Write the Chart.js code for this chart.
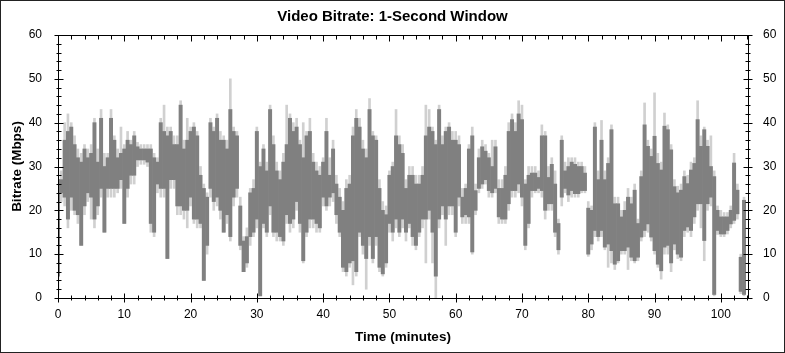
<!DOCTYPE html>
<html>
<head>
<meta charset="utf-8">
<title>Video Bitrate: 1-Second Window</title>
<script src="https://cdn.jsdelivr.net/npm/chart.js@4.4.1/dist/chart.umd.min.js"></script>
<style>
    html, body { margin: 0; padding: 0; background: #fff; }
    #wrap { width: 785px; height: 353px; }
</style>
</head>
<body>
<div id="wrap"><canvas id="bitrateChart" width="785" height="353"></canvas></div>
<script>
// bins of half a minute
const minutes = [
    0, 0.5, 1, 1.5, 2, 2.5, 3, 3.5, 4, 4.5,
    5, 5.5, 6, 6.5, 7, 7.5, 8, 8.5, 9, 9.5,
    10, 10.5, 11, 11.5, 12, 12.5, 13, 13.5, 14, 14.5,
    15, 15.5, 16, 16.5, 17, 17.5, 18, 18.5, 19, 19.5,
    20, 20.5, 21, 21.5, 22, 22.5, 23, 23.5, 24, 24.5,
    25, 25.5, 26, 26.5, 27, 27.5, 28, 28.5, 29, 29.5,
    30, 30.5, 31, 31.5, 32, 32.5, 33, 33.5, 34, 34.5,
    35, 35.5, 36, 36.5, 37, 37.5, 38, 38.5, 39, 39.5,
    40, 40.5, 41, 41.5, 42, 42.5, 43, 43.5, 44, 44.5,
    45, 45.5, 46, 46.5, 47, 47.5, 48, 48.5, 49, 49.5,
    50, 50.5, 51, 51.5, 52, 52.5, 53, 53.5, 54, 54.5,
    55, 55.5, 56, 56.5, 57, 57.5, 58, 58.5, 59, 59.5,
    60, 60.5, 61, 61.5, 62, 62.5, 63, 63.5, 64, 64.5,
    65, 65.5, 66, 66.5, 67, 67.5, 68, 68.5, 69, 69.5,
    70, 70.5, 71, 71.5, 72, 72.5, 73, 73.5, 74, 74.5,
    75, 75.5, 76, 76.5, 77, 77.5, 78, 78.5, 79, 79.5,
    80, 80.5, 81, 81.5, 82, 82.5, 83, 83.5, 84, 84.5,
    85, 85.5, 86, 86.5, 87, 87.5, 88, 88.5, 89, 89.5,
    90, 90.5, 91, 91.5, 92, 92.5, 93, 93.5, 94, 94.5,
    95, 95.5, 96, 96.5, 97, 97.5, 98, 98.5, 99, 99.5,
    100, 100.5, 101, 101.5, 102, 102.5, 103, 103.5
];

// main (dark) band: high / low per bin, Mbps
const bitrateHigh = [
    27, 27, 36, 38, 39, 35, 32, 31, 34, 32,
    33, 40, 31, 41, 30, 32, 41, 36, 32, 33,
    34, 36, 35, 37, 34.5, 34, 34, 34, 34, 32,
    31, 40, 38, 37, 38, 35, 35, 44, 34, 36,
    38, 39, 37, 28, 25, 23, 40, 38, 41, 36,
    36, 34, 43, 38, 37, 21, 13, 14, 24, 25,
    38, 30, 34, 29, 43, 35, 29, 27, 31, 35,
    41, 38, 39, 35, 32, 37, 38, 31, 29, 28,
    31, 38, 28, 34, 26, 23, 20, 25, 26, 37,
    41, 39, 34, 32, 43, 37, 36, 25, 20, 19,
    28, 30, 37, 35, 33, 25, 28, 28, 26, 26,
    28, 37, 39, 38, 35, 43, 35, 38, 39, 36,
    36, 35, 23, 25, 34, 37, 24.5, 32, 34.5, 33.5,
    32, 30, 34.5, 25, 25, 28, 38, 40.7, 38, 42,
    40.7, 26, 28, 28.5, 28.5, 27.5, 37, 37, 27.5, 30.5,
    26, 17, 36, 29, 30, 31, 30.5, 30, 30, 28.5,
    20.5, 20, 39, 27, 36, 27, 30.7, 38.4, 21.5, 21.5,
    18.5, 20, 23, 21.5, 24.6, 17, 27.7, 39.5, 34.6, 32.3,
    36.9, 30.7, 29.2, 39.2, 38.4, 33.8, 25.4, 24, 24.6, 27.7,
    26.1, 29.2, 30.7, 40.7, 34.6, 38.4, 34.6, 30, 27.7, 20,
    18.5, 18.5, 18.5, 20, 30.8, 24.6, 9.3, 22.3
];
const bitrateLow = [
    5, 24, 23, 18, 23, 20, 19, 12, 21, 24,
    23, 18, 21, 25, 15, 25, 25, 25, 25, 27,
    17, 25, 28, 28, 31.5, 31.5, 31.5, 31, 17, 15,
    26, 25, 25, 9, 27, 27, 21, 21, 20, 20,
    23, 18, 18, 17, 4, 12, 25, 22, 23, 20,
    15, 19, 14, 23, 25, 12, 6, 8, 14, 15,
    18, 0.5, 17, 15, 21, 15, 15, 14, 13, 19,
    17, 18, 22, 17, 8.5, 15, 18, 18, 17, 16,
    23, 21, 23, 24, 19, 15, 7, 6, 8, 8.5,
    6, 15, 12, 9, 14, 9, 14, 7, 5.5, 8,
    17, 15, 18, 15, 18, 15, 17, 14, 12, 15,
    18, 18, 20, 15, 5, 18, 21, 18, 21, 21,
    15, 23, 18.5, 19, 18.5, 10.5, 20, 25, 26, 27,
    24.5, 24, 25, 18.5, 18, 18, 21.5, 24.5, 24.5, 26,
    23, 12, 17, 24.5, 24.5, 25, 24.5, 20, 21.5, 21.5,
    15, 11, 23, 25, 23.5, 24.5, 23.8, 23.8, 24.5, 24.5,
    10, 12.3, 15.4, 14, 15.4, 11.6, 12.3, 10.8, 7.7, 8.5,
    10.8, 10.8, 11.6, 9.3, 8.5, 9.3, 13.9, 15.4, 16.9, 13.9,
    10.8, 7.7, 6.2, 11.6, 12, 8, 12.3, 10, 9.3, 15.4,
    16.2, 15.4, 18.5, 21.5, 21.5, 13.1, 21.5, 23, 0.8, 15.4,
    14.6, 14.6, 15.4, 16.9, 17.7, 19.2, 1.5, 0.8
];

// light grey peaks around the band
const peakHigh = [
    29, 29, 40, 42, 40, 37, 34, 33, 35, 34,
    35, 41, 34, 43, 33, 33, 43, 37, 34, 39,
    35, 38, 36, 38, 35.5, 35, 35, 35, 35, 33,
    32, 41, 44, 39, 39, 37, 37, 45, 36, 41,
    39, 40, 38, 30, 26, 24, 41, 39, 42, 38,
    37, 36, 50, 39, 38, 23, 14, 16, 25, 27,
    39, 31, 35, 31, 44, 37, 31, 29, 33, 44,
    42, 40, 41, 36, 40, 38, 41, 33, 31, 30,
    32, 41, 32, 36, 28, 25, 22, 27, 28, 39,
    43, 41, 36, 34, 45.5, 38, 37, 27, 22, 21,
    29, 31, 43, 37, 35, 27, 30, 30, 28, 28,
    30, 44, 43, 39, 36, 44, 37, 39, 40, 38,
    38, 37, 25, 26, 35, 39, 26, 34, 36, 35,
    33, 36, 36, 27, 27, 30, 40, 42, 40, 45,
    44, 27, 30, 30, 30, 29, 39.5, 38, 30, 32,
    29, 18, 37, 31, 32, 32, 32, 31, 31, 30,
    22, 21, 40, 29, 40.5, 29, 32, 39.5, 23, 23,
    20, 22, 25, 23, 26, 18, 29, 44.5, 36, 34,
    46.8, 33, 31, 42.2, 39.5, 35, 27, 25.5, 26, 29,
    28, 31, 32, 45, 37, 39, 36, 37, 29, 21,
    20, 19.5, 19.5, 21, 33, 26, 10, 23
];
const peakLow = [
    1, 22, 21, 16, 20, 19, 17, 12, 19, 22,
    18, 16, 19, 23, 15, 23, 23, 23, 24, 25,
    17, 23, 26, 26, 30, 30.5, 30.5, 30, 15, 14,
    24, 23, 23, 9, 25, 25, 19, 19, 18, 16,
    21, 17, 16, 16, 4, 10, 23, 20, 21, 18,
    15, 17, 13, 21, 23, 11, 6, 7, 12, 14,
    16, 0.5, 16, 14, 19, 14, 13, 13, 12, 17,
    15, 16, 20, 15, 8, 14, 16, 16, 15, 15,
    21, 20, 21, 22, 17, 14, 6, 5, 7, 3,
    5, 14, 10, 2, 12, 8, 12, 6, 5, 7,
    15, 13, 16, 14, 16, 13, 16, 12, 11, 14,
    16, 8, 18, 8, 0, 16, 19, 12, 19, 19,
    14, 21, 17, 17, 17, 10, 19, 24, 25, 26,
    23, 23, 24, 17, 17, 17, 20, 23, 23, 24,
    21, 11, 16, 23, 24, 24, 23, 18, 20, 20,
    14, 10, 21, 24, 22, 23, 23, 23, 24, 24,
    9.5, 11, 14, 13, 14, 11, 7, 8, 6.5, 8,
    10, 10, 6.5, 8.5, 8, 8.5, 13, 14, 15, 13,
    10, 7, 4.3, 10, 10, 6, 11, 9, 8.5, 14,
    15, 14, 17, 20, 16, 8.5, 20, 21, 0.5, 14.5,
    14, 14, 14.6, 16, 17, 18, 1, 0.5
];

const yTicks = [0, 10, 20, 30, 40, 50, 60];
const xTicks = [0, 10, 20, 30, 40, 50, 60, 70, 80, 90, 100];

const FONT = 'Arial, "Liberation Sans", sans-serif';

// white page, outer frame, plot frame and the small ticks on all four sides
const frameAndTicks = {
    id: 'frameAndTicks',
    beforeDraw(chart) {
        const ctx = chart.ctx;
        ctx.save();
        ctx.fillStyle = '#fff';
        ctx.fillRect(0, 0, chart.width, chart.height);
        ctx.strokeStyle = '#222';
        ctx.lineWidth = 1;
        ctx.strokeRect(0.5, 0.5, chart.width - 1, chart.height - 1);
        ctx.restore();
    },
    afterDraw(chart) {
        const { ctx, chartArea: a, scales } = chart;
        const L = Math.round(a.left) + 0.5, R = Math.round(a.right) + 0.5;
        const T = Math.round(a.top) + 0.5, B = Math.round(a.bottom) + 0.5;
        ctx.save();
        ctx.strokeStyle = '#000';
        ctx.lineWidth = 1;
        ctx.strokeRect(L, T, R - L, B - T);
        ctx.beginPath();
        for (let m = 0; m <= 104; m += 2) {
            const px = Math.round(scales.x.getPixelForValue(m)) + 0.5;
            const big = m % 10 === 0;
            ctx.moveTo(px, B - (big ? 5 : 3));
            ctx.lineTo(px, B + (big ? 4 : 2));
            ctx.moveTo(px, T);
            ctx.lineTo(px, T + (big ? 6 : 4));
        }
        for (let v = 0; v <= 60; v += 2) {
            const py = Math.round(scales.y.getPixelForValue(v)) + 0.5;
            const big = v % 10 === 0;
            ctx.moveTo(L - (big ? 4 : 2), py);
            ctx.lineTo(L + (big ? 5 : 3), py);
            ctx.moveTo(R - (big ? 5 : 3), py);
            ctx.lineTo(R + (big ? 4 : 2), py);
        }
        ctx.stroke();
        ctx.restore();
    }
};

const darkBars = minutes.map((m, i) => ({ x: m, y: [bitrateLow[i], bitrateHigh[i]] }));
const lightBars = minutes.map((m, i) => ({ x: m, y: [peakLow[i], peakHigh[i]] }));

const noTicks = { display: false, drawTicks: false, tickLength: 0 };

new Chart(document.getElementById('bitrateChart').getContext('2d'), {
    type: 'bar',
    data: {
        datasets: [
            {
                label: 'Peak',
                data: lightBars,
                backgroundColor: '#d0d0d0',
                barThickness: 2,
                grouped: false,
                order: 2
            },
            {
                label: 'Bitrate',
                data: darkBars,
                backgroundColor: '#808080',
                barPercentage: 1,
                categoryPercentage: 1,
                grouped: false,
                order: 1
            }
        ]
    },
    options: {
        responsive: false,
        animation: false,
        devicePixelRatio: 1,
        layout: { padding: 0 },
        plugins: {
            legend: { display: false },
            tooltip: { enabled: false },
            title: {
                display: true,
                text: 'Video Bitrate: 1-Second Window',
                color: '#000',
                font: { family: FONT, size: 15, weight: 'bold' },
                padding: { top: 8, bottom: 9 }
            }
        },
        scales: {
            x: {
                type: 'linear',
                min: 0,
                max: 104.1,
                offset: false,
                grid: noTicks,
                border: { display: false },
                afterBuildTicks: s => { s.ticks = xTicks.map(v => ({ value: v })); },
                ticks: {
                    color: '#000',
                    font: { family: FONT, size: 12 },
                    padding: 9,
                    maxRotation: 0,
                    autoSkip: false
                },
                title: {
                    display: true,
                    text: 'Time (minutes)',
                    color: '#000',
                    font: { family: FONT, size: 13.5, weight: 'bold' },
                    padding: { top: 0, bottom: 8 }
                },
                afterFit: s => { s.height = 55; }
            },
            y: {
                position: 'left',
                min: 0,
                max: 60,
                grid: noTicks,
                border: { display: false },
                afterBuildTicks: s => { s.ticks = yTicks.map(v => ({ value: v })); },
                ticks: {
                    color: '#000',
                    font: { family: FONT, size: 12 },
                    padding: 16
                },
                title: {
                    display: true,
                    text: 'Bitrate (Mbps)',
                    color: '#000',
                    font: { family: FONT, size: 13.5, weight: 'bold' },
                    padding: { top: 9, bottom: 0 }
                },
                afterFit: s => { s.width = 58; }
            },
            y2: {
                position: 'right',
                min: 0,
                max: 60,
                grid: noTicks,
                border: { display: false },
                afterBuildTicks: s => { s.ticks = yTicks.map(v => ({ value: v })); },
                ticks: {
                    color: '#000',
                    font: { family: FONT, size: 12 },
                    padding: 15
                },
                afterFit: s => { s.width = 37; }
            }
        }
    },
    plugins: [frameAndTicks]
});
</script>
</body>
</html>
